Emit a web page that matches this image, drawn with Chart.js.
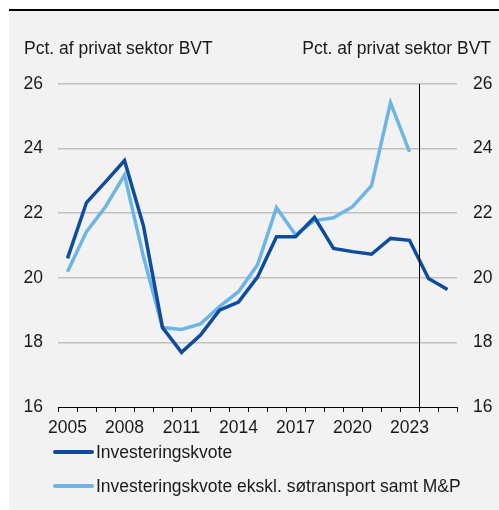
<!DOCTYPE html>
<html>
<head>
<meta charset="utf-8">
<script src="https://cdn.jsdelivr.net/npm/chart.js@4/dist/chart.umd.min.js"></script>
<style>
  html, body { margin: 0; padding: 0; background: #ffffff; }
  #panel { position: absolute; left: 9px; top: 9px; width: 490px; height: 499px; background: #f2f2f2; border-top: 2px solid #000; }
  #wrap { position: relative; width: 490px; height: 499px; }
</style>
</head>
<body>
<div id="panel"><div id="wrap"><canvas id="c"></canvas></div></div>
<script>
const years = ['2005','2006','2007','2008','2009','2010','2011','2012','2013','2014','2015','2016','2017','2018','2019','2020','2021','2022','2023','2024','2025'];
const investeringskvote = [20.60, 22.33, 22.97, 23.63, 21.60, 18.46, 17.69, 18.23, 19.00, 19.25, 20.02, 21.27, 21.27, 21.87, 20.91, 20.81, 20.73, 21.22, 21.16, 19.98, 19.64];
const eksklSoetransport = [20.19, 21.43, 22.20, 23.18, 20.65, 18.46, 18.40, 18.57, 19.11, 19.57, 20.40, 22.17, 21.33, 21.77, 21.86, 22.20, 22.85, 25.42, 23.90, null, null];
const seriesNames = ['Investeringskvote', 'Investeringskvote ekskl. søtransport samt M&P'];
const axisTitle = 'Pct. af privat sektor BVT';
const yTicks = [16, 18, 20, 22, 24, 26];
const shownYears = ['2005','2008','2011','2014','2017','2020','2023'];
const forecastStart = '2024';

const FONT = '"Liberation Sans", Arial, sans-serif';
const TXT = '#1a1a1a';
const DARK = '#0f4c9e';
const LIGHT = '#6db5e5';

const extras = {
  id: 'extras',
  afterDatasetsDraw(chart) {
    const ctx = chart.ctx;
    const x = chart.scales.x;
    const area = chart.chartArea;
    // forecast divider
    const i = years.indexOf(forecastStart);
    const xv = Math.round((x.getPixelForValue(i - 1) + x.getPixelForValue(i)) / 2) + 0.5;
    ctx.save();
    ctx.strokeStyle = '#000';
    ctx.lineWidth = 1;
    ctx.beginPath();
    ctx.moveTo(xv, area.top);
    ctx.lineTo(xv, area.bottom + 5);
    ctx.stroke();
    ctx.restore();
  },
  afterDraw(chart) {
    const ctx = chart.ctx;
    ctx.save();
    ctx.font = '17.5px ' + FONT;
    ctx.fillStyle = TXT;
    ctx.textBaseline = 'alphabetic';
    ctx.textAlign = 'left';
    ctx.fillText(axisTitle, 15, 43);
    ctx.textAlign = 'right';
    ctx.fillText(axisTitle, 482, 43);
    // legend
    const rows = [441, 475];
    chart.data.datasets.forEach((ds, k) => {
      const y = rows[k];
      ctx.strokeStyle = ds.borderColor;
      ctx.lineWidth = 4;
      ctx.lineCap = 'round';
      ctx.beginPath();
      ctx.moveTo(46, y);
      ctx.lineTo(83, y);
      ctx.stroke();
      ctx.fillStyle = TXT;
      ctx.textAlign = 'left';
      ctx.textBaseline = 'middle';
      ctx.fillText(ds.label, 87, y + 1);
    });
    ctx.restore();
  }
};

new Chart(document.getElementById('c'), {
  type: 'line',
  data: {
    labels: years,
    datasets: [
      { label: seriesNames[0], data: investeringskvote, borderColor: DARK, backgroundColor: DARK, borderWidth: 3.5, pointRadius: 0, tension: 0, yAxisID: 'y' },
      { label: seriesNames[1], data: eksklSoetransport, borderColor: LIGHT, backgroundColor: LIGHT, borderWidth: 3.5, pointRadius: 0, tension: 0, yAxisID: 'y' }
    ]
  },
  options: {
    responsive: true,
    maintainAspectRatio: false,
    animation: false,
    events: [],
    layout: { padding: { top: 73, left: 0, right: 0, bottom: 73 } },
    plugins: { legend: { display: false }, tooltip: { enabled: false }, title: { display: false } },
    scales: {
      x: {
        type: 'category',
        offset: true,
        grid: { offset: true, drawOnChartArea: false, drawTicks: true, tickLength: 5, color: '#000', lineWidth: 1 },
        border: { display: true, color: '#000', width: 1 },
        ticks: {
          autoSkip: false, maxRotation: 0, minRotation: 0, padding: 6,
          color: TXT, font: { family: FONT, size: 17.5 },
          callback: function(v) { const l = this.getLabelForValue(v); return shownYears.includes(l) ? l : ''; }
        },
        afterFit(s) { s.height = 30; }
      },
      y: {
        position: 'left', min: 16, max: 26,
        afterBuildTicks(s) { s.ticks = yTicks.map(v => ({ value: v })); },
        grid: { drawTicks: false, color: (c) => c.tick && c.tick.value === 16 ? 'rgba(0,0,0,0)' : '#c0c0c0', lineWidth: 1.5 },
        border: { display: false },
        ticks: { padding: 15, color: TXT, font: { family: FONT, size: 17.5 } },
        afterFit(s) { s.width = 49; }
      },
      y2: {
        position: 'right', min: 16, max: 26, display: true,
        afterBuildTicks(s) { s.ticks = yTicks.map(v => ({ value: v })); },
        grid: { drawOnChartArea: false, drawTicks: false },
        border: { display: false },
        ticks: { padding: 16, color: TXT, font: { family: FONT, size: 17.5 } },
        afterFit(s) { s.width = 42; }
      }
    }
  },
  plugins: [extras]
});
</script>
</body>
</html>
